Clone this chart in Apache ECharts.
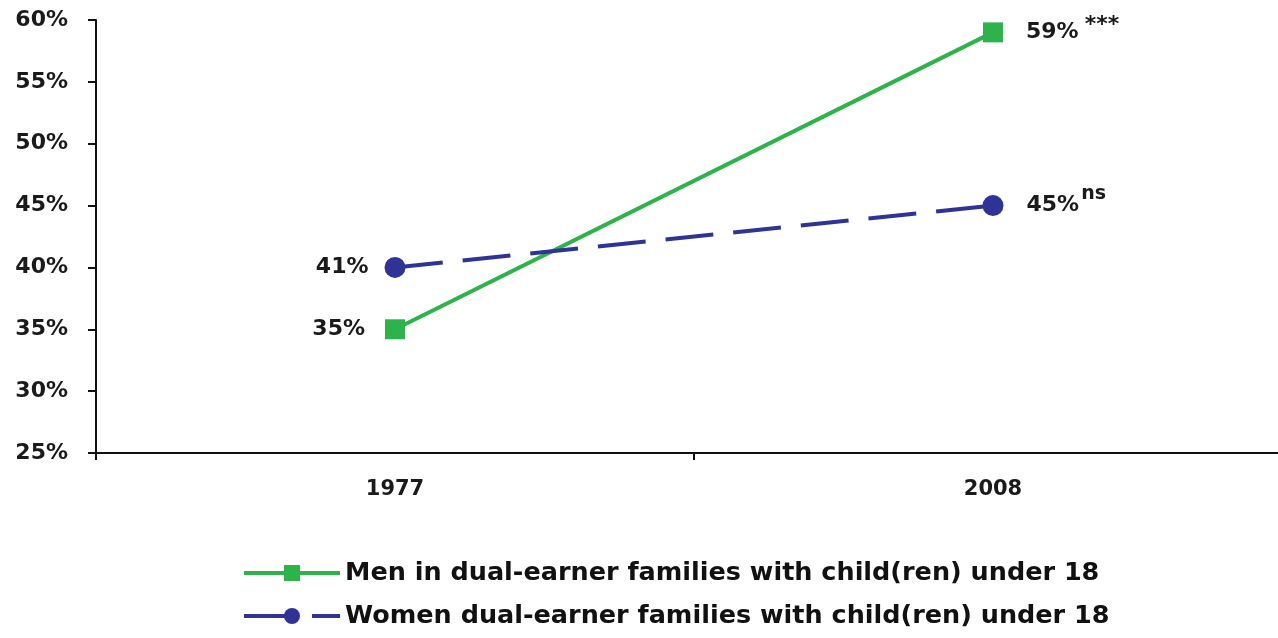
<!DOCTYPE html>
<html><head><meta charset="utf-8">
<script src="https://cdn.jsdelivr.net/npm/echarts@6/dist/echarts.min.js"></script>
<style>html,body{margin:0;padding:0;background:#fff}#c{width:1278px;height:638px}</style>
</head><body><div id="c"></div>
<script>
const categories = ['1977', '2008'];
const menValues = [35, 59];
const womenValues = [40, 45];
const menLabels = ['35%', '59%'];
const menMarks = ['', '***'];
const womenLabels = ['41%', '45%'];
const womenMarks = ['', 'ns'];
const seriesNames = ['Men in dual-earner families with child(ren) under 18', 'Women dual-earner families with child(ren) under 18'];
const yTicks = {min: 25, max: 60, step: 5};

const green = '#2cb34a', blue = '#2f3396';
const font = 'DejaVu Sans, Verdana, sans-serif';
function mkData(vals, labels, marks, leftDist) {
  return vals.map((v, i) => ({
    value: v,
    label: {
      position: i === 0 ? 'left' : 'right',
      distance: i === 0 ? leftDist : 23,
      formatter: marks[i] ? '{a|' + labels[i] + '}{' + (marks[i] === 'ns' ? 'n' : 's') + '|' + marks[i] + '}' : '{a|' + labels[i] + '}'
    }
  }));
}
const rich = {
  a: {fontFamily: font, fontWeight: 'bold', fontSize: 22, color: '#1a1a1a'},
  s: {fontFamily: font, fontWeight: 'bold', fontSize: 22, color: '#1a1a1a', padding: [0, 0, 14, 6]},
  n: {fontFamily: font, fontWeight: 'bold', fontSize: 19, color: '#1a1a1a', padding: [0, 0, 24, 2]}
};
const chart = echarts.init(document.getElementById('c'));
chart.setOption({
  animation: false,
  backgroundColor: '#ffffff',
  grid: {left: 96, top: 20, height: 433, width: 1196, containLabel: false, outerBoundsMode: 'none'},
  xAxis: {
    type: 'category', data: categories, boundaryGap: true,
    axisLine: {lineStyle: {color: '#111', width: 2}},
    axisTick: {show: true, length: 7, lineStyle: {color: '#111', width: 2}},
    axisLabel: {fontFamily: font, fontWeight: 'bold', fontSize: 21, color: '#1a1a1a', margin: 26}
  },
  yAxis: {
    type: 'value', min: yTicks.min, max: yTicks.max, interval: yTicks.step,
    axisLine: {show: true, lineStyle: {color: '#111', width: 2}},
    axisTick: {show: true, length: 8, lineStyle: {color: '#111', width: 2}},
    splitLine: {show: false},
    axisLabel: {formatter: '{value}%', fontFamily: font, fontWeight: 'bold', fontSize: 22, color: '#1a1a1a', margin: 28}
  },
  legend: {
    orient: 'vertical', left: 237, top: 555, itemGap: 17, itemWidth: 96, itemHeight: 20,
    textStyle: {fontFamily: font, fontWeight: 'bold', fontSize: 25.5, color: '#111'},
    lineStyle: {width: 4},
    data: seriesNames
  },
  series: [
    {
      name: seriesNames[0], type: 'line', data: mkData(menValues, menLabels, menMarks, 20),
      symbol: 'rect', symbolSize: 20,
      lineStyle: {color: green, width: 4}, itemStyle: {color: green},
      label: {show: true, rich: rich}
    },
    {
      name: seriesNames[1], type: 'line', data: mkData(womenValues, womenLabels, womenMarks, 16),
      symbol: 'circle', symbolSize: 21,
      lineStyle: {color: blue, width: 4, type: [48, 20]}, itemStyle: {color: blue},
      label: {show: true, rich: rich}
    }
  ]
});
</script></body></html>
